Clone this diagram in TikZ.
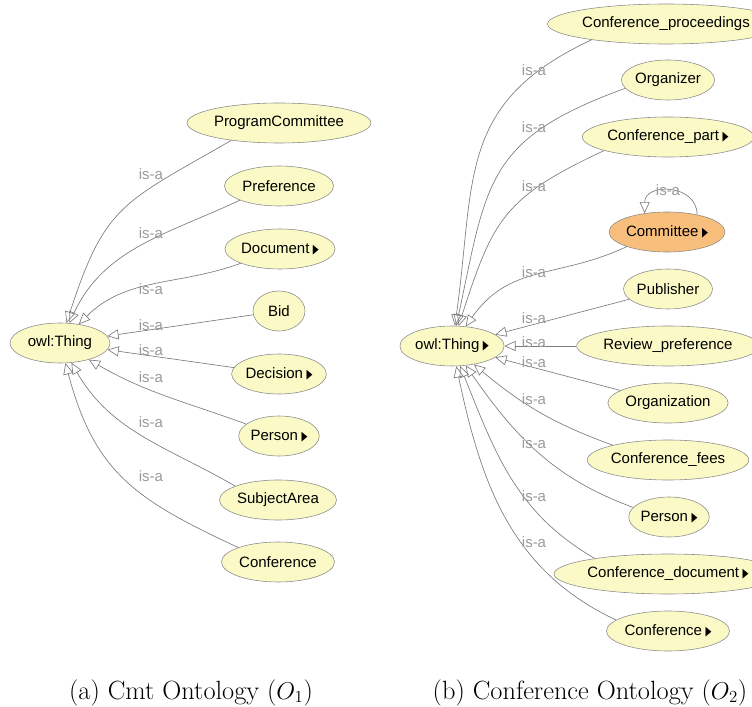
\documentclass[tikz,border=0pt]{standalone}
\usepackage{fontspec}
\usepackage{tikz}
\usetikzlibrary{arrows.meta, shapes.geometric}
\newfontfamily\owlfont{Liberation Sans}
\newfontfamily\symfont{DejaVu Sans}
\definecolor{clsfill}{HTML}{FBFAC6}
\definecolor{selfill}{HTML}{F8BF7C}
\definecolor{clsline}{HTML}{8C8C8C}
\definecolor{edgecol}{HTML}{7A7A7A}
\definecolor{isacol}{HTML}{9A9A9A}
\newlength\pxu
\setlength\pxu{0.03cm}
% small black triangle: class has subclasses
\newcommand\more{\hspace{3pt}{\symfont\fontsize{11}{11}\selectfont\scalebox{0.6}[1]{▶}}}
\tikzset{
    onto/.style={x=0.03cm, y=-0.03cm, font=\owlfont\fontsize{12.8}{14}\selectfont},
    cls/.style={ellipse, draw=clsline, fill=clsfill, line width=0.5pt, inner sep=0pt, minimum height=40\pxu},
    sel/.style={cls, fill=selfill},
    isaedge/.style={draw=edgecol, line width=0.55pt, -{Triangle[open, length=9.6pt, width=8.6pt]}},
    isa/.style={text=isacol, inner sep=0pt},
    caption/.style={font=\fontsize{22.5}{26}\selectfont, anchor=base},
}

\begin{document}
\begin{tikzpicture}[onto]
    \useasboundingbox (0,0) rectangle (752,707);

    % (a) Cmt
    \node[cls, minimum width=100\pxu] (thA)  at (60,343)  {owl:Thing};
    \node[cls, minimum width=172\pxu] (pc)   at (279,123) {ProgramCommittee};
    \node[cls, minimum width=109\pxu] (pref) at (279,186) {Preference};
    \node[cls, minimum width=104\pxu] (doc)  at (280,249) {Document\more};
    \node[cls, minimum width=52\pxu]  (bid)  at (279,311) {Bid};
    \node[cls, minimum width=92\pxu]  (dec)  at (279,374) {Decision\more};
    \node[cls, minimum width=79\pxu]  (perA) at (279,436) {Person\more};
    \node[cls, minimum width=117\pxu] (sub)  at (278,500) {SubjectArea};
    \node[cls, minimum width=113\pxu] (confA) at (278,562) {Conference};

    \draw[isaedge] (pc.200)   to[out=210, in=72, looseness=1.3] (thA);
    \draw[isaedge] (pref.200) to[out=205, in=65] (thA);
    \draw[isaedge] (doc.200)  to[out=200, in=45] (thA);
    \draw[isaedge] (bid)  -- (thA);
    \draw[isaedge] (dec)  -- (thA);
    \draw[isaedge] (perA.160) to[out=160, in=-30] (thA);
    \draw[isaedge] (sub.162)  to[out=150, in=-60] (thA);
    \draw[isaedge] (confA.160) to[out=155, in=-75, looseness=1.15] (thA);

    \node[isa] (la1) at (151,174) {is-a};
    \node[isa] (la2) at (151,233) {is-a};
    \node[isa] (la3) at (151,289) {is-a};
    \node[isa] (la4) at (151,325) {is-a};
    \node[isa] (la5) at (151,350) {is-a};
    \node[isa] (la6) at (151,377) {is-a};
    \node[isa] (la7) at (151,422) {is-a};
    \node[isa] (la8) at (151,476) {is-a};

    % (b) Conference
    \node[cls, minimum width=91\pxu]  (thB)   at (452,346) {owl:Thing\more};
    \node[cls, minimum width=190\pxu] (cproc) at (666,24)  {Conference\_proceedings};
    \node[cls, minimum width=93\pxu]  (org)   at (668,80)  {Organizer};
    \node[cls, minimum width=137\pxu] (cpart) at (668,137) {Conference\_part\more};
    \node[sel, minimum width=101\pxu] (com)   at (667,232) {Committee\more};
    \node[cls, minimum width=89\pxu]  (pub)   at (668,289) {Publisher};
    \node[cls, minimum width=151\pxu] (rev)   at (668,346) {Review\_preference};
    \node[cls, minimum width=114\pxu] (orgn)  at (668,403) {Organization};
    \node[cls, minimum width=139\pxu] (fees)  at (668,460) {Conference\_fees};
    \node[cls, minimum width=72\pxu]  (perB)  at (669,517) {Person\more};
    \node[cls, minimum width=172\pxu] (cdoc)  at (668,574) {Conference\_document\more};
    \node[cls, minimum width=102\pxu] (confB) at (668,631) {Conference\more};

    \draw[isaedge] (cproc.192) to[out=205, in=82, looseness=1.2] (thB);
    \draw[isaedge] (org.191)   to[out=200, in=78, looseness=1.3] (thB);
    \draw[isaedge] (cpart.192) to[out=205, in=72, looseness=1.25] (thB);
    \draw[isaedge] (com.200)   to[out=205, in=55, looseness=1.1] (thB);
    \draw[isaedge] (com.30) to[out=90, in=90, looseness=1.5] (com.140);
    \draw[isaedge] (pub)   -- (thB);
    \draw[isaedge] (rev)   -- (thB);
    \draw[isaedge] (orgn)  -- (thB);
    \draw[isaedge] (fees.165)  to[out=160, in=-40] (thB);
    \draw[isaedge] (perB.165)  to[out=160, in=-55] (thB);
    \draw[isaedge] (cdoc.168)  to[out=150, in=-68] (thB);
    \draw[isaedge] (confB.168) to[out=155, in=-78] (thB);

    \node[isa] (lb1)  at (534,70)  {is-a};
    \node[isa] (lb2)  at (534,127) {is-a};
    \node[isa] (lb3)  at (534,186) {is-a};
    \node[isa] (lb4)  at (534,272) {is-a};
    \node[isa] (lb5)  at (534,318) {is-a};
    \node[isa] (lb6)  at (534,342) {is-a};
    \node[isa] (lb7)  at (534,362) {is-a};
    \node[isa] (lb8)  at (534,399) {is-a};
    \node[isa] (lb9)  at (534,443) {is-a};
    \node[isa] (lb10) at (534,496) {is-a};
    \node[isa] (lb11) at (534,542) {is-a};
    \node[isa] (lbs)  at (668,190) {is-a};

    \node[caption] (capA) at (191,699) {(a) Cmt Ontology ($O_1$)};
    \node[caption] (capB) at (590,699) {(b) Conference Ontology ($O_2$)};
\end{tikzpicture}
\end{document}
